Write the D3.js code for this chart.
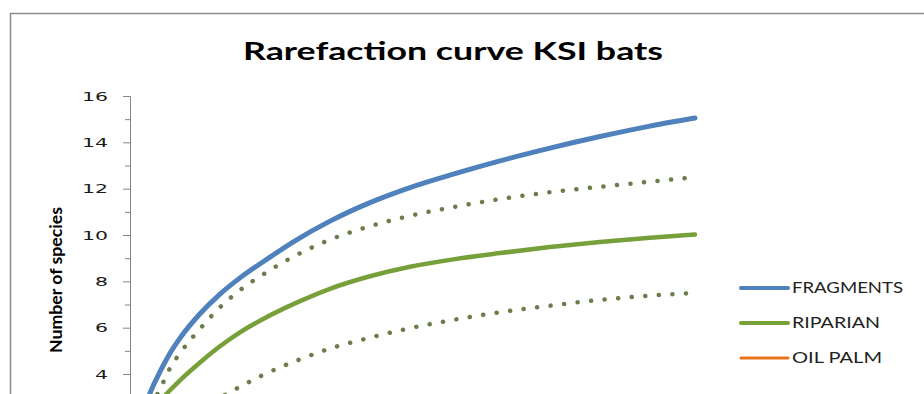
<!DOCTYPE html>
<html>
<head>
<meta charset="utf-8">
<script src="https://cdn.jsdelivr.net/npm/d3@7"></script>
<style>
  html, body { margin: 0; padding: 0; background: #fff; overflow: hidden; }
  svg { display: block; }
</style>
</head>
<body>
<div id="chart"></div>
<script>
// ---- data ----
const individuals   = [1, 2, 3, 4, 6, 8, 10, 14, 18, 22, 27, 33, 40, 48, 56, 65, 74, 84, 94, 104, 113];
const fragments     = [1.0, 1.9, 2.55, 3.17, 4.1, 4.9, 5.55, 6.6, 7.45, 8.15, 8.9, 9.75, 10.6, 11.4, 12.05, 12.65, 13.2, 13.75, 14.25, 14.7, 15.05];
const riparian      = [1.0, 1.5, 1.9, 2.25, 2.82, 3.3, 3.73, 4.5, 5.2, 5.8, 6.42, 7.05, 7.68, 8.22, 8.63, 8.96, 9.22, 9.48, 9.7, 9.88, 10.02];
const riparianUpper = [1.0, 1.6, 2.1, 2.55, 3.35, 4.25, 4.9, 5.95, 6.88, 7.62, 8.35, 9.1, 9.8, 10.38, 10.83, 11.22, 11.55, 11.85, 12.08, 12.3, 12.5];
const riparianLower = [0.5, 0.75, 0.95, 1.15, 1.45, 1.75, 2.0, 2.5, 2.98, 3.45, 4.0, 4.55, 5.1, 5.57, 5.98, 6.35, 6.67, 6.95, 7.2, 7.38, 7.5];
const oilPalmIndividuals = [1, 2, 4, 6, 8, 10, 14, 18, 22, 27];
const oilPalm       = [1.0, 1.2, 1.4, 1.55, 1.65, 1.75, 1.85, 1.9, 1.95, 2.0];
const yTicks = [4, 6, 8, 10, 12, 14, 16];
const yMinorTicks = [5, 7, 9, 11, 13, 15];
const legendNames = ["FRAGMENTS", "RIPARIAN", "OIL PALM"];
const chartTitle = "Rarefaction curve KSI bats";
const yTitle = "Number of species";

// ---- layout ----
const W = 924, H = 394;
const colors = { FRAGMENTS: "#4F81BD", RIPARIAN: "#77A03A", "OIL PALM": "#E8731A", ci: "#6B7D4C" };

const svg = d3.select("#chart").append("svg")
  .attr("width", W).attr("height", H);

svg.append("rect").attr("width", W).attr("height", H).attr("fill", "#fff");

// chart border (extends past the visible area)
svg.append("rect")
  .attr("x", 10.5).attr("y", 13.5).attr("width", 1200).attr("height", 1200)
  .attr("fill", "none").attr("stroke", "#8c8c8c").attr("stroke-width", 1.5);

const x = d3.scaleLinear().domain([0, 120]).range([130, 730]);
const y = d3.scaleLinear().domain([0, 16]).range([466.7, 96]);

// title
svg.append("text")
  .attr("x", 453).attr("y", 60)
  .attr("text-anchor", "middle")
  .attr("font-family", "Lato, 'Open Sans', sans-serif")
  .attr("font-weight", "bold")
  .attr("font-size", 24)
  .attr("fill", "#000")
  .attr("textLength", 420)
  .attr("lengthAdjust", "spacingAndGlyphs")
  .text(chartTitle);

// y axis (major)
const yAxisG = svg.append("g").attr("transform", "translate(130,0)")
  .call(d3.axisLeft(y).tickValues(yTicks).tickSize(7).tickPadding(15).tickFormat(d3.format("d")));
yAxisG.select(".domain").attr("stroke", "#868686").attr("d", "M-7,96.5H0.5V400");
yAxisG.selectAll(".tick line").attr("stroke", "#868686");
yAxisG.selectAll(".tick text")
  .attr("font-family", "'DejaVu Sans', Verdana, sans-serif")
  .attr("font-size", 13)
  .attr("fill", "#1a1a1a")
  .attr("textLength", d => String(d).length * 13)
  .attr("lengthAdjust", "spacingAndGlyphs");

// minor ticks
const yMinorG = svg.append("g").attr("transform", "translate(130,0)")
  .call(d3.axisLeft(y).tickValues(yMinorTicks).tickSize(5).tickFormat(""));
yMinorG.select(".domain").remove();
yMinorG.selectAll(".tick line").attr("stroke", "#868686");

// y title
svg.append("text")
  .attr("transform", "translate(56,280) scale(1.4,1) rotate(-90)")
  .attr("text-anchor", "middle")
  .attr("dy", "0.35em")
  .attr("font-family", "Lato, 'Open Sans', sans-serif")
  .attr("font-weight", "bold")
  .attr("font-size", 12)
  .attr("fill", "#000")
  .attr("textLength", 146)
  .attr("lengthAdjust", "spacingAndGlyphs")
  .text(yTitle);

// lines
const line = d3.line()
  .x(d => x(d[0]))
  .y(d => y(d[1]))
  .curve(d3.curveMonotoneX);

const plot = svg.append("g");

function series(xs, ys) { return xs.map((v, i) => [v, ys[i]]); }

plot.append("path")
  .datum(series(oilPalmIndividuals, oilPalm))
  .attr("d", line).attr("fill", "none")
  .attr("stroke", colors["OIL PALM"]).attr("stroke-width", 3);

plot.append("path")
  .datum(series(individuals, riparianLower))
  .attr("d", line).attr("fill", "none")
  .attr("stroke", colors.ci).attr("stroke-width", 4.5)
  .attr("stroke-linecap", "round").attr("stroke-dasharray", "0.1 13.5");

plot.append("path")
  .datum(series(individuals, riparianUpper))
  .attr("d", line).attr("fill", "none")
  .attr("stroke", colors.ci).attr("stroke-width", 4.5)
  .attr("stroke-linecap", "round").attr("stroke-dasharray", "0.1 13.5");

plot.append("path")
  .datum(series(individuals, riparian))
  .attr("d", line).attr("fill", "none")
  .attr("stroke", colors.RIPARIAN).attr("stroke-width", 4.5)
  .attr("stroke-linecap", "round");

plot.append("path")
  .datum(series(individuals, fragments))
  .attr("d", line).attr("fill", "none")
  .attr("stroke", colors.FRAGMENTS).attr("stroke-width", 5)
  .attr("stroke-linecap", "round");

// legend
const legendTextLen = { FRAGMENTS: 111, RIPARIAN: 88, "OIL PALM": 90 };
const legendY = d3.scalePoint().domain(legendNames).range([288, 358]);
const lg = svg.append("g");
legendNames.forEach(name => {
  const cy = legendY(name);
  lg.append("line")
    .attr("x1", 741).attr("x2", 788).attr("y1", cy).attr("y2", cy)
    .attr("stroke", colors[name])
    .attr("stroke-width", name === "OIL PALM" ? 3 : 4)
    .attr("stroke-linecap", "round");
  lg.append("text")
    .attr("x", 792).attr("y", cy).attr("dy", "0.36em")
    .attr("font-family", "Lato, 'Open Sans', sans-serif")
    .attr("font-size", 15)
    .attr("fill", "#222")
    .attr("textLength", legendTextLen[name])
    .attr("lengthAdjust", "spacingAndGlyphs")
    .text(name);
});
</script>
</body>
</html>
